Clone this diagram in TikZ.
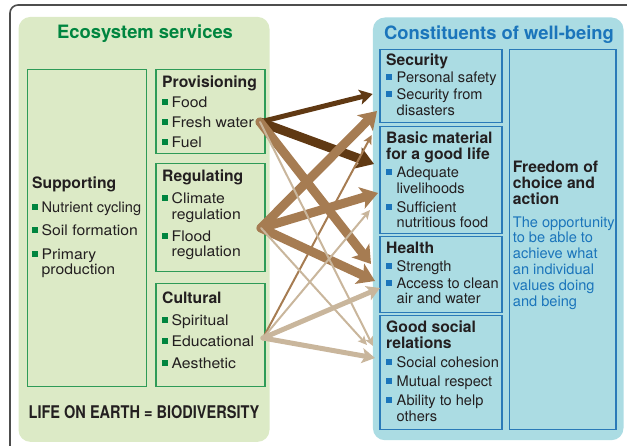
\documentclass[tikz,border=0pt]{standalone}
\usepackage{fontspec}
\setmainfont{TeX Gyre Heros}
\newfontfamily\widefont{TeX Gyre Heros}[FakeStretch=1.08]
\usepackage{graphicx}
\usetikzlibrary{arrows.meta}

\definecolor{esgreen}{HTML}{00853F}
\definecolor{esline}{HTML}{2E9B57}
\definecolor{espanel}{HTML}{DCEAC6}
\definecolor{wbblue}{HTML}{1B75BB}
\definecolor{wbline}{HTML}{2A7AB8}
\definecolor{wbpanel}{HTML}{ABDCE3}
\definecolor{txtdark}{HTML}{231F20}
\definecolor{framegray}{HTML}{4D4D4D}
\definecolor{lnkdark}{HTML}{603913}
\definecolor{lnkmid}{HTML}{A67C52}
\definecolor{lnklight}{HTML}{C9B69C}

% bullets and text blocks
\newcommand{\gsq}{\textcolor{esgreen}{\rule[2.5pt]{6pt}{6pt}}}
\newcommand{\bsq}{\textcolor{wbblue}{\rule[2.5pt]{6pt}{6pt}}}
\newcommand{\hdg}[1]{{\normalfont\fontsize{15.7}{15.8}\selectfont\bfseries #1}}
\newcommand{\gi}[1]{\par\hangindent=9.5pt\hangafter=1\noindent\makebox[9.5pt][l]{\gsq}#1}
\newcommand{\bi}[1]{\par\hangindent=10.5pt\hangafter=1\noindent\makebox[10.5pt][l]{\bsq}#1}
\newcommand{\lblk}[2]{\parbox[t]{150pt}{\raggedright\widefont\fontsize{14.6}{15.5}\selectfont\parskip=#1\relax #2}}
\newcommand{\rblk}[2]{\parbox[t]{150pt}{\raggedright\fontsize{14.6}{15.8}\selectfont\parskip=#1\relax #2}}

\begin{document}
\begin{tikzpicture}[x=1pt,y=-1pt,
    panel/.style={rounded corners=12pt, inner sep=0pt, anchor=north west},
    gbox/.style={draw=esline, line width=1.2pt, inner sep=0pt, anchor=north west},
    bbox/.style={draw=wbline, line width=1.2pt, inner sep=0pt, anchor=north west},
    txt/.style={anchor=base west, inner sep=0pt, text=txtdark},
    ptitle/.style={anchor=base, inner sep=0pt, font=\fontsize{18.4}{20}\selectfont\bfseries},
    lnkweak/.style={line width=2pt, -{Stealth[length=9pt,width=8.5pt,inset=2pt]}},
    lnkmedium/.style={line width=5pt, -{Stealth[length=13pt,width=15pt,inset=3pt]}},
    lnkstrong/.style={line width=9pt, -{Stealth[length=17pt,width=22pt,inset=4pt]}}]
    \useasboundingbox (0,0) rectangle (627,446);
    \draw[framegray, line width=1.6pt, rounded corners=8pt] (10,470) -- (10,5) -- (650,5);

    % the two panels
    \node[panel, fill=espanel, minimum width=251pt, minimum height=425pt] (es) at (18.3,16.7) {};
    \node[panel, fill=wbpanel, minimum width=250.6pt, minimum height=422.7pt] (wb) at (372.7,17.3) {};
    \node[ptitle, text=esgreen] (es-title) at (145,38.5) {Ecosystem services};
    \node[ptitle, text=wbblue] (wb-title) at (499,39.3) {Constituents of well-being};

    % ecosystem services
    \node[gbox, minimum width=119.3pt, minimum height=316.4pt] (supp) at (26.7,69.3) {};
    \node[gbox, minimum width=109pt, minimum height=84pt] (prov) at (155.3,69.3) {};
    \node[gbox, minimum width=109pt, minimum height=107.7pt] (reg) at (155.3,163.3) {};
    \node[gbox, minimum width=109pt, minimum height=103pt] (cult) at (155.3,282.7) {};
    \node[txt] (supp-t) at ([shift={(5.3,119.7)}]supp.north west)
        {\lblk{8pt}{\hdg{Supporting}\gi{{\normalfont Nutrient cycling}}\gi{Soil formation}\gi{Primary\newline production}}};
    \node[txt] (prov-t) at ([shift={(6.7,18)}]prov.north west)
        {\lblk{4.5pt}{\hdg{Provisioning}\gi{Food}\gi{Fresh water}\gi{Fuel}}};
    \node[txt] (reg-t) at ([shift={(6.7,18.4)}]reg.north west)
        {\lblk{6.5pt}{\hdg{Regulating}\gi{Climate\newline regulation}\gi{Flood\newline regulation}}};
    \node[txt] (cult-t) at ([shift={(6.7,21.3)}]cult.north west)
        {\lblk{6pt}{\hdg{Cultural}\gi{Spiritual}\gi{Educational}\gi{Aesthetic}}};
    \node[anchor=base, inner sep=0pt, text=txtdark] (life) at (144,419)
        {\scalebox{0.83}[1]{\fontsize{17.5}{18}\selectfont\bfseries LIFE ON EARTH = BIODIVERSITY}};

    % constituents of well-being
    \node[bbox, minimum width=122pt, minimum height=73.3pt] (sec) at (379.3,49) {};
    \node[bbox, minimum width=122pt, minimum height=107.6pt] (mat) at (379.3,125.7) {};
    \node[bbox, minimum width=122pt, minimum height=75.7pt] (hlt) at (379.3,236) {};
    \node[bbox, minimum width=122pt, minimum height=114.3pt] (soc) at (379.3,315) {};
    \node[bbox, minimum width=106.3pt, minimum height=380.3pt] (free) at (509,49) {};
    \node[txt] (sec-t) at ([shift={(6.7,16.7)}]sec.north west)
        {\rblk{1pt}{\hdg{Security}\bi{Personal safety}\bi{Security from\newline disasters}}};
    \node[txt] (mat-t) at ([shift={(6.7,17.6)}]mat.north west)
        {\rblk{2.8pt}{\hdg{Basic material\newline for a good life}\bi{Adequate\newline livelihoods}\bi{Sufficient\newline nutritious food}}};
    \node[txt] (hlt-t) at ([shift={(6.7,18)}]hlt.north west)
        {\rblk{1.3pt}{\hdg{Health}\bi{Strength}\bi{Access to clean\newline air and water}}};
    \node[txt] (soc-t) at ([shift={(6.7,17.7)}]soc.north west)
        {\rblk{3.3pt}{\hdg{Good social\newline relations}\bi{Social cohesion}\bi{Mutual respect}\bi{Ability to help\newline others}}};
    \node[txt] (free-t) at ([shift={(3.7,123.7)}]free.north west)
        {\rblk{7pt}{\hdg{Freedom of\newline choice and\newline action}\par{\color{wbblue}The opportunity\newline to be able to\newline achieve what\newline an individual\newline values doing\newline and being}}};

    % links
    \coordinate (prov-out) at (260,122);
    \coordinate (reg-out) at (261,228);
    \coordinate (cult-out) at (263,338);
    \coordinate (sec-p) at (372.7,94);
    \coordinate (mat-p) at (374,164);
    \coordinate (hlt-p) at (371,264);
    \coordinate (soc-p) at (373,346);
    \coordinate (sec-r) at (377,111);
    \coordinate (mat-r) at (378,193);
    \coordinate (hlt-r) at (375,281);
    \coordinate (soc-r) at (367,345);
    \coordinate (sec-c) at (371.7,135);
    \coordinate (mat-c) at (370,210);
    \coordinate (hlt-c) at (380,288);
    \coordinate (soc-c) at (375,358);
    \path[line cap=round]
        (prov-out) edge[lnkmedium, draw=lnkdark] (sec-p)
        (prov-out) edge[lnkstrong, draw=lnkdark] (mat-p)
        (prov-out) edge[lnkstrong, draw=lnkmid] (hlt-p)
        (reg-out) edge[lnkstrong, draw=lnkmid] (sec-r)
        (reg-out) edge[lnkstrong, draw=lnkmid] (mat-r)
        (reg-out) edge[lnkstrong, draw=lnkmid] (hlt-r)
        (cult-out) edge[lnkweak, draw=lnkmid] (sec-c)
        (cult-out) edge[lnkweak, draw=lnklight] (mat-c)
        (cult-out) edge[lnkmedium, draw=lnklight] (hlt-c)
        (cult-out) edge[lnkmedium, draw=lnklight] (soc-c)
        (prov-out) edge[lnkweak, draw=lnklight] (soc-p)
        (reg-out) edge[lnkweak, draw=lnklight] (soc-r);
\end{tikzpicture}
\end{document}
